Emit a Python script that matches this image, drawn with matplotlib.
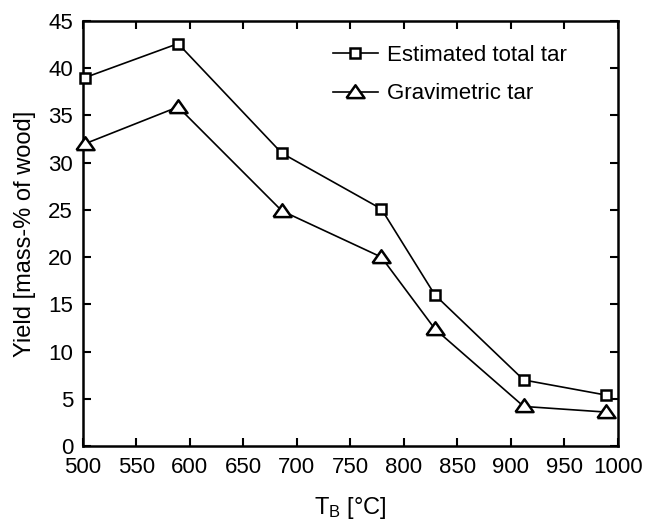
import numpy as np
import matplotlib
matplotlib.use("Agg")
import matplotlib.pyplot as plt

plt.rcParams["font.family"] = ["Liberation Sans", "DejaVu Sans"]
plt.rcParams["mathtext.default"] = "regular"

# data
temp_total = [502, 589, 686, 779, 829, 912, 989]
total_tar = [39.0, 42.6, 31.0, 25.1, 16.0, 7.0, 5.4]
temp_grav = [502, 589, 686, 779, 829, 912, 989]
grav_tar = [32.0, 35.9, 24.9, 20.0, 12.4, 4.2, 3.6]

x_ticks = list(range(500, 1001, 50))
y_ticks = list(range(0, 46, 5))

# wide, flat open triangle like the scanned original
TRI = [(-1.0, -0.62), (1.0, -0.62), (0.0, 0.8), (-1.0, -0.62)]

fig = plt.figure(figsize=(6.47, 5.23), dpi=100)
ax = fig.add_axes([0.128, 0.147, 0.827, 0.813])

ax.plot(temp_total, total_tar, color="black", lw=1.2, marker="s", ms=7.5,
        mfc="white", mec="black", mew=1.8, label="Estimated total tar",
        clip_on=False, zorder=3)
ax.plot(temp_grav, grav_tar, color="black", lw=1.2, marker=TRI, ms=13,
        mfc="white", mec="black", mew=1.8, label="Gravimetric tar",
        clip_on=False, zorder=3)

ax.set_xlim(500, 1000)
ax.set_ylim(0, 45)
ax.set_xticks(x_ticks)
ax.set_yticks(y_ticks)
ax.tick_params(direction="in", length=6, width=1.5, labelsize=16,
               top=True, right=True)
ax.tick_params(axis="x", pad=8)
ax.tick_params(axis="y", pad=7)
for sp in ax.spines.values():
    sp.set_linewidth(1.8)

ax.set_xlabel(r"T$_B$ [°C]", fontsize=17, labelpad=12)
ax.set_ylabel("Yield [mass-% of wood]", fontsize=17, labelpad=9)

ax.legend(loc="upper left", bbox_to_anchor=(0.467, 0.943), frameon=False,
          fontsize=16, borderpad=0, handlelength=2.05, handletextpad=0.4,
          labelspacing=0.78, borderaxespad=0)

fig.savefig("out.png", dpi=100)
